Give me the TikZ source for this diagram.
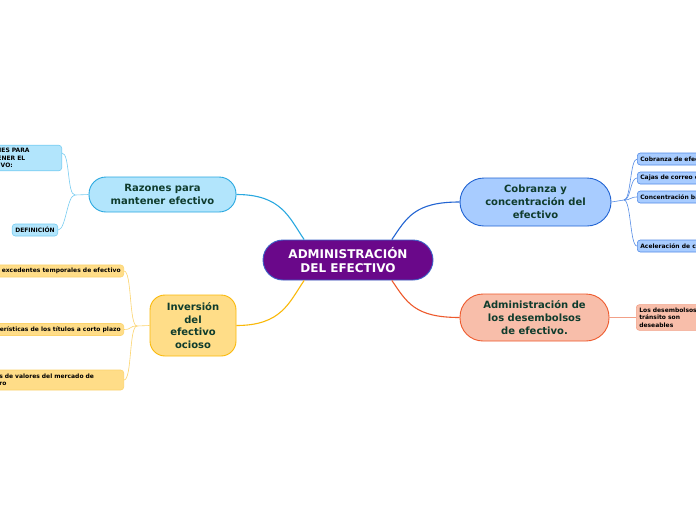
\documentclass[tikz,border=0pt]{standalone}
\usepackage{fontspec}
\setmainfont{DejaVu Sans}
\usetikzlibrary{positioning}
\definecolor{mainFill}{RGB}{106,8,138}
\definecolor{mainLine}{RGB}{60,100,200}
\definecolor{topicText}{RGB}{15,60,45}
\definecolor{razFill}{RGB}{178,229,252}
\definecolor{razLine}{RGB}{41,168,224}
\definecolor{razLeaf}{RGB}{120,205,242}
\definecolor{invFill}{RGB}{255,221,136}
\definecolor{invLine}{RGB}{250,185,10}
\definecolor{invLeaf}{RGB}{252,212,110}
\definecolor{cobFill}{RGB}{168,204,255}
\definecolor{cobLine}{RGB}{34,100,210}
\definecolor{cobLeaf}{RGB}{85,140,230}
\definecolor{desFill}{RGB}{248,190,170}
\definecolor{desLine}{RGB}{238,90,45}
\definecolor{desLeaf}{RGB}{242,160,135}

\begin{document}
\begin{tikzpicture}[x=1pt,y=-1pt,
    topic/.style={draw, line width=0.9pt, align=center, inner sep=0pt, text=topicText,
      font=\fontsize{10}{13}\selectfont\bfseries},
    leaf/.style={draw, line width=0.6pt, rounded corners=3pt, inner sep=3pt,
      minimum height=12pt, font=\fontsize{6}{7.5}\selectfont\bfseries},
    conn/.style={line width=1.1pt},
    twig/.style={line width=0.6pt}]
  \useasboundingbox (0,0) rectangle (696,520);
  \fill[white] (0,0) rectangle (696,520);
  \clip (0,0) rectangle (696,520);
  % main topic
  \node[draw=mainLine, fill=mainFill, line width=0.9pt, rounded corners=20pt, minimum width=170pt,
    minimum height=40pt, inner sep=0pt, align=center, text=white,
    font=\fontsize{12}{14}\selectfont\bfseries] (main) at (348,260) {ADMINISTRACIÓN\\DEL EFECTIVO};
  % the four topics
  \node[topic, draw=razLine, fill=razFill, rounded corners=17pt, minimum width=147pt,
    minimum height=35pt] (raz) at (162.5,194.5) {Razones para\\mantener efectivo};
  \node[topic, draw=invLine, fill=invFill, rounded corners=15pt, minimum width=86pt,
    minimum height=61pt, font=\fontsize{10}{12.7}\selectfont\bfseries] (inv) at (193,325.5) {Inversión\\del\\efectivo\\ ocioso};
  \node[topic, draw=cobLine, fill=cobFill, rounded corners=24pt, minimum width=151pt,
    minimum height=48pt] (cob) at (535.5,202) {Cobranza y\\concentración del\\efectivo};
  \node[topic, draw=desLine, fill=desFill, rounded corners=23pt, minimum width=149pt,
    minimum height=47pt] (des) at (534.5,317.5) {Administración de\\los desembolsos\\ de efectivo.};
  \draw[conn, razLine] (main.155) .. controls +(-15,-22) and +(45,0) .. (raz.east);
  \draw[conn, invLine] (main.205) .. controls +(-15,22) and +(45,0) .. (inv.east);
  \draw[conn, cobLine] (main.25) .. controls +(15,-22) and +(-45,0) .. (cob.west);
  \draw[conn, desLine] (main.335) .. controls +(15,22) and +(-45,0) .. (des.west);
  % Razones leaves
  \node[leaf, draw=razLeaf, fill=razFill, anchor=east, text width=81pt, align=left]
    (rl1) at (62,158) {RAZONES PARA\\MANTENER EL\\EFECTIVO:};
  \node[leaf, draw=razLeaf, fill=razFill] (rl2) at (35,230) {DEFINICIÓN};
  \coordinate (rfork) at (75,195);
  \draw[twig, razLeaf] (raz.west) -- (rfork);
  \draw[twig, razLeaf] (rfork) .. controls +(-8,0) and +(8,0) .. ([yshift=5pt]rl1.east);
  \draw[twig, razLeaf] (rfork) .. controls +(-8,0) and +(8,0) .. (rl2.east);
  % Inversion leaves
  \node[leaf, draw=invLeaf, fill=invFill, anchor=east] (il1) at (124,271) {Inversión de excedentes temporales de efectivo};
  \node[leaf, draw=invLeaf, fill=invFill, anchor=east] (il2) at (124,329.5) {Características de los títulos a corto plazo};
  \node[leaf, draw=invLeaf, fill=invFill, anchor=east, text width=136pt, align=left,
    minimum height=20pt] (il3) at (124,380) {Tipos de valores del mercado de\\dinero};
  \coordinate (ifork) at (137,326);
  \draw[twig, invLeaf] (inv.west) -- (ifork);
  \foreach \n in {il1,il2,il3}
    \draw[twig, invLeaf] (ifork) .. controls +(-8,0) and +(8,0) .. (\n.east);
  % Cobranza leaves
  \node[leaf, draw=cobLeaf, fill=cobFill, anchor=west] (cl1) at (637,159) {Cobranza de efectivo};
  \node[leaf, draw=cobLeaf, fill=cobFill, anchor=west] (cl2) at (637,178) {Cajas de correo cerradas};
  \node[leaf, draw=cobLeaf, fill=cobFill, anchor=west] (cl3) at (637,197) {Concentración bancaria};
  \node[leaf, draw=cobLeaf, fill=cobFill, anchor=west] (cl4) at (637,246) {Aceleración de cobros};
  \coordinate (cfork) at (624,200);
  \draw[twig, cobLeaf] (cob.east) -- (cfork);
  \foreach \n in {cl1,cl2,cl3,cl4}
    \draw[twig, cobLeaf] (cfork) .. controls +(7,0) and +(-7,0) .. (\n.west);
  % Desembolsos leaf
  \node[leaf, draw=desLeaf, fill=desFill, anchor=west, text width=72pt, align=left]
    (dl1) at (636,317.5) {Los desembolsos en\\tránsito son\\deseables};
  \draw[twig, desLeaf] (des.east) -- (dl1.west);
\end{tikzpicture}
\end{document}
